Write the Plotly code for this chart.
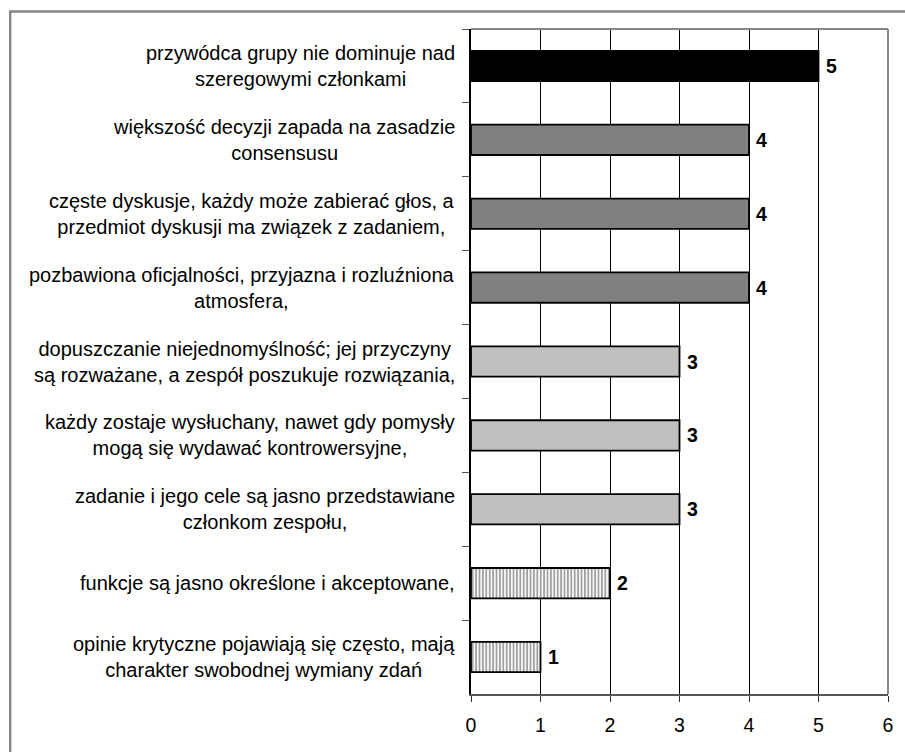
import plotly.graph_objects as go

# Team-work features and their scores (top to bottom)
features = [
    "przywódca grupy nie dominuje nad<br>szeregowymi członkami",
    "większość decyzji zapada na zasadzie<br>consensusu",
    "częste dyskusje, każdy może zabierać głos, a<br>przedmiot dyskusji ma związek z zadaniem,",
    "pozbawiona oficjalności, przyjazna i rozluźniona<br>atmosfera,",
    "dopuszczanie niejednomyślność; jej przyczyny<br>są rozważane, a zespół poszukuje rozwiązania,",
    "każdy zostaje wysłuchany, nawet gdy pomysły<br>mogą się wydawać kontrowersyjne,",
    "zadanie i jego cele są jasno przedstawiane<br>członkom zespołu,",
    "funkcje są jasno określone i akceptowane,",
    "opinie krytyczne pojawiają się często, mają<br>charakter swobodnej wymiany zdań",
]
scores = [5, 4, 4, 4, 3, 3, 3, 2, 1]
x_ticks = [0, 1, 2, 3, 4, 5, 6]

FONT = "Liberation Sans, Arial, sans-serif"

# Fill style by score level
fill_by_score = {5: "#000000", 4: "#808080", 3: "#C0C0C0"}
colors = [fill_by_score.get(s, "#FFFFFF") for s in scores]
shapes_pat = ["|" if s <= 2 else "" for s in scores]

fig = go.Figure()
fig.add_trace(go.Bar(
    x=scores,
    y=features,
    orientation="h",
    marker=dict(
        color=colors,
        line=dict(color="#000000", width=1.8),
        pattern=dict(shape=shapes_pat, fgcolor="#000000", bgcolor="#FFFFFF",
                     size=3.4, solidity=0.55),
    ),
    cliponaxis=False,
    hoverinfo="skip",
))

# Score labels just beyond the end of each bar
for f, s in zip(features, scores):
    fig.add_annotation(
        x=s, xref="x", y=f, yref="y",
        text=f"<b>{s}</b>", showarrow=False,
        xanchor="left", yanchor="middle", xshift=5,
        font=dict(family=FONT, size=19.5, color="#000000"),
    )

# Category labels, centred line by line and right-aligned next to the axis
for f in features:
    fig.add_annotation(
        x=0, xref="paper", y=f, yref="y",
        text=f, showarrow=False,
        xanchor="right", yanchor="middle", align="center",
        xshift=-14,
        font=dict(family=FONT, size=20, color="#000000"),
    )

W, H = 905, 752
L, R, T, B = 471, 15, 29, 58
pw, ph = W - L - R, H - T - B

# Outer chart frame (gray) and plot-area frame (top / right edges)
fig.add_shape(type="rect", xref="paper", yref="paper",
              x0=(8 - L) / pw, x1=(W + 20 - L) / pw,
              y0=-(B + 30) / ph, y1=1 + (T - 11.5) / ph,
              line=dict(color="#868686", width=2.4), fillcolor="rgba(0,0,0,0)",
              layer="below")
fig.add_shape(type="line", xref="paper", yref="paper",
              x0=0, x1=1, y0=1, y1=1, line=dict(color="#868686", width=2))
fig.add_shape(type="line", xref="paper", yref="paper",
              x0=1, x1=1, y0=0, y1=1, line=dict(color="#868686", width=2))

fig.update_layout(
    width=W, height=H,
    margin=dict(l=L, r=R, t=T, b=B, pad=0),
    paper_bgcolor="#FFFFFF", plot_bgcolor="#FFFFFF",
    bargap=0.59,
    showlegend=False,
    font=dict(family=FONT, size=19, color="#000000"),
    xaxis=dict(
        range=[0, 6], tickvals=x_ticks, ticktext=[str(v) for v in x_ticks],
        showgrid=True, gridcolor="#000000", gridwidth=1,
        showline=True, linecolor="#555555", linewidth=1.5,
        ticks="outside", ticklen=6, tickcolor="#333333",
        ticklabelstandoff=7,
        zeroline=False, fixedrange=True,
        tickfont=dict(family=FONT, size=19.5, color="#000000"),
    ),
    yaxis=dict(
        type="category", categoryorder="array", categoryarray=features,
        autorange="reversed",
        showticklabels=False, showgrid=False, zeroline=False,
        showline=True, linecolor="#000000", linewidth=2,
        ticks="outside", tickson="boundaries", ticklen=7, tickcolor="#555555",
        fixedrange=True,
    ),
)

fig.write_html("out.html")
